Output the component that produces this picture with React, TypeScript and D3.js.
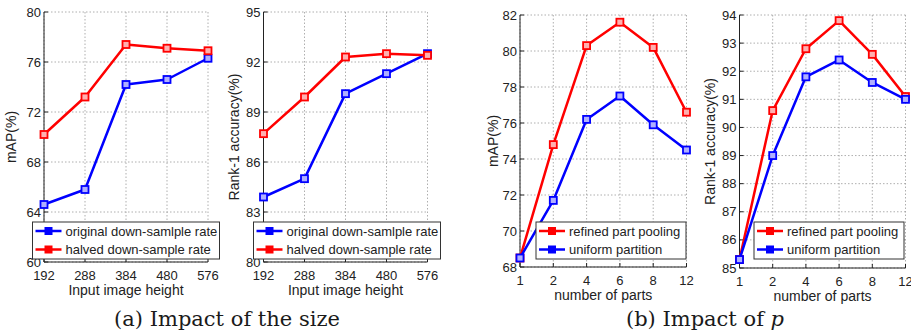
import React from 'react'
import * as d3 from 'd3'

// panel (a): input image height
const heights = [192, 288, 384, 480, 576]
const mapOriginal = [64.6, 65.8, 74.2, 74.6, 76.3]
const mapHalved = [70.2, 73.2, 77.4, 77.1, 76.9]
const rankOriginal = [83.9, 85.0, 90.1, 91.3, 92.5]
const rankHalved = [87.7, 89.9, 92.3, 92.5, 92.4]

// panel (b): number of parts
const parts = ['1', '2', '4', '6', '8', '12']
const mapRefined = [68.5, 74.8, 80.3, 81.6, 80.2, 76.6]
const mapUniform = [68.5, 71.7, 76.2, 77.5, 75.9, 74.5]
const rankRefined = [85.3, 90.6, 92.8, 93.8, 92.6, 91.1]
const rankUniform = [85.3, 89.0, 91.8, 92.4, 91.6, 91.0]

const mapTicksA = [60, 64, 68, 72, 76, 80]
const rankTicksA = [80, 83, 86, 89, 92, 95]
const mapTicksB = [68, 70, 72, 74, 76, 78, 80, 82]
const rankTicksB = [85, 86, 87, 88, 89, 90, 91, 92, 93, 94]

const RED = '#ff0000'
const BLUE = '#0000ff'
const sans = 'Liberation Sans, Arial, sans-serif'

type Series = { name: string, color: string, values: number[] }

const Panel = ({ x0, x1, y0, y1, xs, xScaleKind, yTicks, ylabel, ylabelX, xlabel, series, legend, legendOrder }) => {
  const yScale = d3.scaleLinear()
    .domain([yTicks[0], yTicks[yTicks.length - 1]])
    .range([y1, y0])
  let xScale
  if (xScaleKind === 'linear') {
    xScale = d3.scaleLinear().domain([xs[0], xs[xs.length - 1]]).range([x0, x1])
  } else {
    xScale = d3.scalePoint().domain(xs).range([x0, x1])
  }
  const line = d3.line<number>()
    .x((d, i) => xScale(xs[i]))
    .y(d => yScale(d))

  const ms = 7
  return (
    <g>
      {/* grid */}
      {yTicks.map(t => (
        <line key={'gy' + t} x1={x0} x2={x1} y1={yScale(t)} y2={yScale(t)}
          stroke="#9a9a9a" strokeWidth={0.8} strokeDasharray="1.5,2" />
      ))}
      {xs.map(t => (
        <line key={'gx' + t} x1={xScale(t)} x2={xScale(t)} y1={y0} y2={y1}
          stroke="#9a9a9a" strokeWidth={0.8} strokeDasharray="1.5,2" />
      ))}
      {/* axes */}
      <line x1={x0} x2={x0} y1={y0} y2={y1} stroke="#222" strokeWidth={1} />
      <line x1={x0} x2={x1} y1={y1} y2={y1} stroke="#222" strokeWidth={1} />
      {yTicks.map(t => (
        <g key={'ty' + t}>
          <line x1={x0} x2={x0 + 4} y1={yScale(t)} y2={yScale(t)} stroke="#222" />
          <text x={x0 - 3} y={yScale(t)} dy="0.35em" textAnchor="end"
            fontFamily={sans} fontSize={13} fill="#222">{t}</text>
        </g>
      ))}
      {xs.map(t => (
        <g key={'tx' + t}>
          <line x1={xScale(t)} x2={xScale(t)} y1={y1} y2={y1 - 4} stroke="#222" />
          <text x={xScale(t)} y={y1 + 13} dy="0.35em" textAnchor="middle"
            fontFamily={sans} fontSize={13} fill="#222">{t}</text>
        </g>
      ))}
      <text x={(x0 + x1) / 2} y={y1 + 28} dy="0.35em" textAnchor="middle"
        fontFamily={sans} fontSize={14} fill="#222">{xlabel}</text>
      <text transform={`translate(${ylabelX},${(y0 + y1) / 2}) rotate(-90)`} dy="0.35em"
        textAnchor="middle" fontFamily={sans} fontSize={14} fill="#222">{ylabel}</text>
      {/* series */}
      {series.map((s: Series) => (
        <g key={s.name}>
          <path d={line(s.values)} fill="none" stroke={s.color} strokeWidth={2.5} strokeLinejoin="round" />
          {s.values.map((v, i) => (
            <rect key={i} x={xScale(xs[i]) - ms / 2} y={yScale(v) - ms / 2} width={ms} height={ms}
              fill={s.color === RED ? '#ffb0b0' : '#b0b0ff'} stroke={s.color} strokeWidth={1.8} />
          ))}
        </g>
      ))}
      {/* legend */}
      <rect x={legend.x} y={legend.y} width={legend.w} height={37} fill="#fff" stroke="#333" strokeWidth={1} />
      {legendOrder.map((s: Series, i: number) => {
        const cy = legend.y + 9 + i * 18.5
        const lx = legend.x + 3
        return (
          <g key={'lg' + s.name}>
            <line x1={lx} x2={lx + 26} y1={cy} y2={cy} stroke={s.color} strokeWidth={2.5} />
            <rect x={lx + 13 - 3.5} y={cy - 3.5} width={7} height={7} fill={s.color} stroke={s.color} />
            <text x={lx + 30} y={cy} dy="0.35em" fontFamily={sans} fontSize={13} fill="#222">{s.name}</text>
          </g>
        )
      })}
    </g>
  )
}

const App = () => {
  const sOrig = { name: 'original down-samlple rate', color: BLUE, values: mapOriginal }
  const sHalf = { name: 'halved down-sample rate', color: RED, values: mapHalved }
  const rOrig = { name: 'original down-samlple rate', color: BLUE, values: rankOriginal }
  const rHalf = { name: 'halved down-sample rate', color: RED, values: rankHalved }
  const sRef = { name: 'refined part pooling', color: RED, values: mapRefined }
  const sUni = { name: 'uniform partition', color: BLUE, values: mapUniform }
  const rRef = { name: 'refined part pooling', color: RED, values: rankRefined }
  const rUni = { name: 'uniform partition', color: BLUE, values: rankUniform }

  return (
    <svg width={911} height={332} style={{ position: 'absolute', left: 0, top: 0, background: '#fff' }}>
      <Panel x0={44} x1={208} y0={12} y1={262} xs={heights} xScaleKind="linear" yTicks={mapTicksA}
        ylabel="mAP(%)" ylabelX={11} xlabel="Input image height"
        series={[sOrig, sHalf]} legendOrder={[sOrig, sHalf]} legend={{ x: 32.5, y: 222, w: 187 }} />
      <Panel x0={263.5} x1={427.5} y0={12} y1={262} xs={heights} xScaleKind="linear" yTicks={rankTicksA}
        ylabel="Rank-1 accuracy(%)" ylabelX={234} xlabel="Input image height"
        series={[rOrig, rHalf]} legendOrder={[rOrig, rHalf]} legend={{ x: 253.5, y: 222, w: 187 }} />
      <Panel x0={520} x1={686.5} y0={15} y1={267} xs={parts} xScaleKind="point" yTicks={mapTicksB}
        ylabel="mAP(%)" ylabelX={493} xlabel="number of parts"
        series={[sRef, sUni]} legendOrder={[sRef, sUni]} legend={{ x: 536, y: 222, w: 150 }} />
      <Panel x0={739.5} x1={905.5} y0={15} y1={268} xs={parts} xScaleKind="point" yTicks={rankTicksB}
        ylabel="Rank-1 accuracy(%)" ylabelX={710} xlabel="number of parts"
        series={[rRef, rUni]} legendOrder={[rRef, rUni]} legend={{ x: 754, y: 222, w: 150 }} />
      <text x={227} y={326} textAnchor="middle" fontFamily="DejaVu Serif, serif" fontSize={21} fill="#1a1a1a">(a) Impact of the size</text>
      <text x={705} y={326} textAnchor="middle" fontFamily="DejaVu Serif, serif" fontSize={21} fill="#1a1a1a">
        (b) Impact of <tspan fontStyle="italic">p</tspan>
      </text>
    </svg>
  )
}

export default App
